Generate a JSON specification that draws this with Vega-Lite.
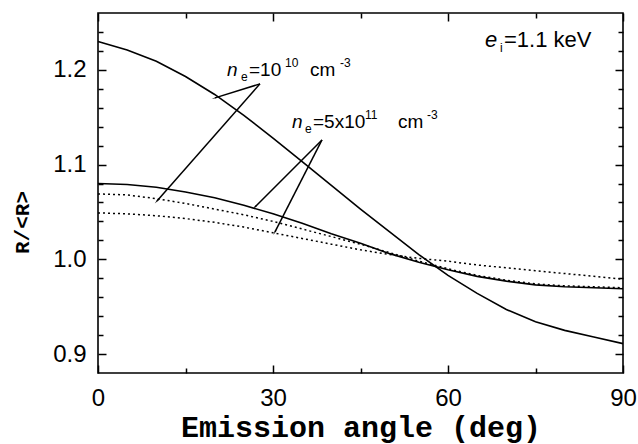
{
  "$schema": "https://vega.github.io/schema/vega-lite/v6.json",
  "width": 525,
  "height": 360,
  "autosize": {"type": "none"},
  "padding": {"left": 98, "top": 13, "right": 15, "bottom": 71},
  "background": "white",
  "config": {"view": {"stroke": "black", "strokeWidth": 1.6}},
  "datasets": {
    "curves": [
      {"series": "s1", "kind": "solid", "x": 0, "y": 1.230},
      {"series": "s1", "kind": "solid", "x": 5, "y": 1.221},
      {"series": "s1", "kind": "solid", "x": 10, "y": 1.209},
      {"series": "s1", "kind": "solid", "x": 15, "y": 1.193},
      {"series": "s1", "kind": "solid", "x": 20, "y": 1.174},
      {"series": "s1", "kind": "solid", "x": 25, "y": 1.152},
      {"series": "s1", "kind": "solid", "x": 30, "y": 1.128},
      {"series": "s1", "kind": "solid", "x": 35, "y": 1.103},
      {"series": "s1", "kind": "solid", "x": 40, "y": 1.078},
      {"series": "s1", "kind": "solid", "x": 45, "y": 1.053},
      {"series": "s1", "kind": "solid", "x": 50, "y": 1.029},
      {"series": "s1", "kind": "solid", "x": 55, "y": 1.005},
      {"series": "s1", "kind": "solid", "x": 60, "y": 0.983},
      {"series": "s1", "kind": "solid", "x": 65, "y": 0.964},
      {"series": "s1", "kind": "solid", "x": 70, "y": 0.947},
      {"series": "s1", "kind": "solid", "x": 75, "y": 0.934},
      {"series": "s1", "kind": "solid", "x": 80, "y": 0.925},
      {"series": "s1", "kind": "solid", "x": 85, "y": 0.918},
      {"series": "s1", "kind": "solid", "x": 90, "y": 0.911},
      {"series": "s2", "kind": "solid", "x": 0, "y": 1.080},
      {"series": "s2", "kind": "solid", "x": 5, "y": 1.079},
      {"series": "s2", "kind": "solid", "x": 10, "y": 1.076},
      {"series": "s2", "kind": "solid", "x": 15, "y": 1.071},
      {"series": "s2", "kind": "solid", "x": 20, "y": 1.065},
      {"series": "s2", "kind": "solid", "x": 25, "y": 1.057},
      {"series": "s2", "kind": "solid", "x": 30, "y": 1.048},
      {"series": "s2", "kind": "solid", "x": 35, "y": 1.038},
      {"series": "s2", "kind": "solid", "x": 40, "y": 1.027},
      {"series": "s2", "kind": "solid", "x": 45, "y": 1.017},
      {"series": "s2", "kind": "solid", "x": 50, "y": 1.006},
      {"series": "s2", "kind": "solid", "x": 55, "y": 0.997},
      {"series": "s2", "kind": "solid", "x": 60, "y": 0.989},
      {"series": "s2", "kind": "solid", "x": 65, "y": 0.982},
      {"series": "s2", "kind": "solid", "x": 70, "y": 0.977},
      {"series": "s2", "kind": "solid", "x": 75, "y": 0.973},
      {"series": "s2", "kind": "solid", "x": 80, "y": 0.971},
      {"series": "s2", "kind": "solid", "x": 85, "y": 0.970},
      {"series": "s2", "kind": "solid", "x": 90, "y": 0.969},
      {"series": "d1", "kind": "dotted", "x": 0, "y": 1.069},
      {"series": "d1", "kind": "dotted", "x": 5, "y": 1.068},
      {"series": "d1", "kind": "dotted", "x": 10, "y": 1.064},
      {"series": "d1", "kind": "dotted", "x": 15, "y": 1.059},
      {"series": "d1", "kind": "dotted", "x": 20, "y": 1.053},
      {"series": "d1", "kind": "dotted", "x": 25, "y": 1.047},
      {"series": "d1", "kind": "dotted", "x": 30, "y": 1.040},
      {"series": "d1", "kind": "dotted", "x": 35, "y": 1.032},
      {"series": "d1", "kind": "dotted", "x": 40, "y": 1.024},
      {"series": "d1", "kind": "dotted", "x": 45, "y": 1.016},
      {"series": "d1", "kind": "dotted", "x": 50, "y": 1.007},
      {"series": "d1", "kind": "dotted", "x": 55, "y": 0.998},
      {"series": "d1", "kind": "dotted", "x": 60, "y": 0.990},
      {"series": "d1", "kind": "dotted", "x": 65, "y": 0.983},
      {"series": "d1", "kind": "dotted", "x": 70, "y": 0.978},
      {"series": "d1", "kind": "dotted", "x": 75, "y": 0.974},
      {"series": "d1", "kind": "dotted", "x": 80, "y": 0.972},
      {"series": "d1", "kind": "dotted", "x": 85, "y": 0.971},
      {"series": "d1", "kind": "dotted", "x": 90, "y": 0.970},
      {"series": "d2", "kind": "dotted", "x": 0, "y": 1.049},
      {"series": "d2", "kind": "dotted", "x": 5, "y": 1.048},
      {"series": "d2", "kind": "dotted", "x": 10, "y": 1.046},
      {"series": "d2", "kind": "dotted", "x": 15, "y": 1.043},
      {"series": "d2", "kind": "dotted", "x": 20, "y": 1.039},
      {"series": "d2", "kind": "dotted", "x": 25, "y": 1.034},
      {"series": "d2", "kind": "dotted", "x": 30, "y": 1.028},
      {"series": "d2", "kind": "dotted", "x": 35, "y": 1.022},
      {"series": "d2", "kind": "dotted", "x": 40, "y": 1.016},
      {"series": "d2", "kind": "dotted", "x": 45, "y": 1.010},
      {"series": "d2", "kind": "dotted", "x": 50, "y": 1.005},
      {"series": "d2", "kind": "dotted", "x": 55, "y": 1.001},
      {"series": "d2", "kind": "dotted", "x": 60, "y": 0.998},
      {"series": "d2", "kind": "dotted", "x": 65, "y": 0.994},
      {"series": "d2", "kind": "dotted", "x": 70, "y": 0.991},
      {"series": "d2", "kind": "dotted", "x": 75, "y": 0.988},
      {"series": "d2", "kind": "dotted", "x": 80, "y": 0.985},
      {"series": "d2", "kind": "dotted", "x": 85, "y": 0.982},
      {"series": "d2", "kind": "dotted", "x": 90, "y": 0.979}
    ],
    "arrows": [
      {"id": "a1", "x": 27.77, "y": 1.1852, "x2": 20.06, "y2": 1.1704},
      {"id": "a2", "x": 27.77, "y": 1.1852, "x2": 10.11, "y2": 1.0616},
      {"id": "a3", "x": 38.4, "y": 1.126, "x2": 26.91, "y2": 1.0553},
      {"id": "a4", "x": 38.4, "y": 1.126, "x2": 30.34, "y2": 1.0289}
    ],
    "labels": [
      {"style": "it", "t": "n", "x": 22.11, "y": 1.1936},
      {"style": "sub", "t": "e", "x": 24.51, "y": 1.1936},
      {"style": "big", "t": "=10", "x": 25.89, "y": 1.1936},
      {"style": "sup", "t": "10", "x": 32.06, "y": 1.1936},
      {"style": "big", "t": "cm", "x": 36.34, "y": 1.1936},
      {"style": "sup", "t": "-3", "x": 41.49, "y": 1.1936},
      {"style": "it", "t": "n", "x": 33.26, "y": 1.1387},
      {"style": "sub", "t": "e", "x": 35.49, "y": 1.1387},
      {"style": "big", "t": "=5x10", "x": 36.86, "y": 1.1387},
      {"style": "sup", "t": "11", "x": 45.77, "y": 1.1387},
      {"style": "big", "t": "cm", "x": 51.43, "y": 1.1387},
      {"style": "sup", "t": "-3", "x": 56.4, "y": 1.1387},
      {"style": "itk", "t": "e", "x": 66.34, "y": 1.2242},
      {"style": "sub", "t": "i", "x": 68.91, "y": 1.2242},
      {"style": "bigk", "t": "=1.1 keV", "x": 69.6, "y": 1.2242}
    ]
  },
  "resolve": {"axis": {"x": "independent", "y": "independent"}},
  "layer": [
    {
      "data": {"name": "curves"},
      "transform": [{"filter": "datum.kind == 'solid'"}],
      "mark": {"type": "line", "color": "black", "strokeWidth": 1.6},
      "encoding": {
        "x": {"field": "x", "type": "quantitative", "scale": {"domain": [0, 90], "nice": false, "zero": false},
          "axis": {"orient": "bottom", "values": [0, 30, 60, 90], "offset": -8, "tickSize": 8, "tickWidth": 1.5, "tickColor": "black", "domain": false, "grid": false,
            "labelFont": "Liberation Sans", "labelFontSize": 24, "labelColor": "black", "labelPadding": 13, "labelFlush": false, "labelOverlap": false,
            "title": "Emission angle (deg)", "titleFont": "Liberation Mono", "titleFontSize": 30, "titleFontWeight": "bold", "titleColor": "black", "titleY": 71, "titleBaseline": "alphabetic"}},
        "y": {"field": "y", "type": "quantitative", "scale": {"domain": [0.88, 1.26], "nice": false, "zero": false},
          "axis": {"orient": "left", "values": [0.9, 1.0, 1.1, 1.2], "format": ".1f", "offset": -8, "tickSize": 8, "tickWidth": 1.5, "tickColor": "black", "domain": false, "grid": false,
            "labelFont": "Liberation Sans", "labelFontSize": 24, "labelColor": "black", "labelPadding": 12, "labelOverlap": false,
            "title": "R/<R>", "titleFont": "Liberation Mono", "titleFontSize": 21, "titleFontWeight": "bold", "titleColor": "black", "titleX": -84, "titleY": 209, "titleAngle": -90, "titleBaseline": "middle", "titleAlign": "center"}},
        "detail": {"field": "series", "type": "nominal"}
      }
    },
    {
      "data": {"name": "curves"},
      "transform": [{"filter": "datum.kind == 'dotted'"}],
      "mark": {"type": "line", "color": "black", "strokeWidth": 1.5, "strokeDash": [2, 3]},
      "encoding": {
        "x": {"field": "x", "type": "quantitative", "scale": {"domain": [0, 90], "nice": false, "zero": false},
          "axis": {"orient": "bottom", "values": [15, 45, 75], "offset": -5, "tickSize": 5, "tickWidth": 1.5, "tickColor": "black", "domain": false, "grid": false, "labels": false, "title": null}},
        "y": {"field": "y", "type": "quantitative", "scale": {"domain": [0.88, 1.26], "nice": false, "zero": false},
          "axis": {"orient": "left", "values": [0.92, 0.94, 0.96, 0.98, 1.02, 1.04, 1.06, 1.08, 1.12, 1.14, 1.16, 1.18, 1.22, 1.24], "offset": -5, "tickSize": 5, "tickWidth": 1.5, "tickColor": "black", "domain": false, "grid": false, "labels": false, "title": null}},
        "detail": {"field": "series", "type": "nominal"}
      }
    },
    {
      "data": {"name": "arrows"},
      "mark": {"type": "rule", "color": "black", "strokeWidth": 1.5},
      "encoding": {
        "x": {"field": "x", "type": "quantitative", "scale": {"domain": [0, 90], "nice": false, "zero": false},
          "axis": {"orient": "top", "values": [0, 30, 60, 90], "offset": -8, "tickSize": 8, "tickWidth": 1.5, "tickColor": "black", "domain": false, "grid": false, "labels": false, "title": null}},
        "y": {"field": "y", "type": "quantitative", "scale": {"domain": [0.88, 1.26], "nice": false, "zero": false},
          "axis": {"orient": "right", "values": [0.9, 1.0, 1.1, 1.2], "offset": -8, "tickSize": 8, "tickWidth": 1.5, "tickColor": "black", "domain": false, "grid": false, "labels": false, "title": null}},
        "x2": {"field": "x2"},
        "y2": {"field": "y2"}
      }
    },
    {
      "data": {"name": "labels"},
      "transform": [{"filter": "datum.style == 'big'"}],
      "mark": {"type": "text", "align": "left", "baseline": "alphabetic", "font": "Liberation Sans", "fontSize": 19, "color": "black"},
      "encoding": {
        "x": {"field": "x", "type": "quantitative", "scale": {"domain": [0, 90], "nice": false, "zero": false},
          "axis": {"orient": "top", "values": [15, 45, 75], "offset": -5, "tickSize": 5, "tickWidth": 1.5, "tickColor": "black", "domain": false, "grid": false, "labels": false, "title": null}},
        "y": {"field": "y", "type": "quantitative", "scale": {"domain": [0.88, 1.26], "nice": false, "zero": false},
          "axis": {"orient": "right", "values": [0.92, 0.94, 0.96, 0.98, 1.02, 1.04, 1.06, 1.08, 1.12, 1.14, 1.16, 1.18, 1.22, 1.24], "offset": -5, "tickSize": 5, "tickWidth": 1.5, "tickColor": "black", "domain": false, "grid": false, "labels": false, "title": null}},
        "text": {"field": "t"}
      }
    },
    {
      "data": {"name": "labels"},
      "transform": [{"filter": "datum.style == 'bigk'"}],
      "mark": {"type": "text", "align": "left", "baseline": "alphabetic", "font": "Liberation Sans", "fontSize": 22, "color": "black"},
      "encoding": {
        "x": {"field": "x", "type": "quantitative", "axis": null},
        "y": {"field": "y", "type": "quantitative", "axis": null},
        "text": {"field": "t"}
      }
    },
    {
      "data": {"name": "labels"},
      "transform": [{"filter": "datum.style == 'itk'"}],
      "mark": {"type": "text", "align": "left", "baseline": "alphabetic", "font": "Liberation Sans", "fontSize": 22, "fontStyle": "italic", "color": "black"},
      "encoding": {
        "x": {"field": "x", "type": "quantitative", "axis": null},
        "y": {"field": "y", "type": "quantitative", "axis": null},
        "text": {"field": "t"}
      }
    },
    {
      "data": {"name": "labels"},
      "transform": [{"filter": "datum.style == 'it'"}],
      "mark": {"type": "text", "align": "left", "baseline": "alphabetic", "font": "Liberation Sans", "fontSize": 19, "fontStyle": "italic", "color": "black"},
      "encoding": {
        "x": {"field": "x", "type": "quantitative", "axis": null},
        "y": {"field": "y", "type": "quantitative", "axis": null},
        "text": {"field": "t"}
      }
    },
    {
      "data": {"name": "labels"},
      "transform": [{"filter": "datum.style == 'sub'"}],
      "mark": {"type": "text", "align": "left", "baseline": "alphabetic", "font": "Liberation Sans", "fontSize": 12, "dy": 5, "color": "black"},
      "encoding": {
        "x": {"field": "x", "type": "quantitative", "axis": null},
        "y": {"field": "y", "type": "quantitative", "axis": null},
        "text": {"field": "t"}
      }
    },
    {
      "data": {"name": "labels"},
      "transform": [{"filter": "datum.style == 'sup'"}],
      "mark": {"type": "text", "align": "left", "baseline": "alphabetic", "font": "Liberation Sans", "fontSize": 12, "dy": -9, "color": "black"},
      "encoding": {
        "x": {"field": "x", "type": "quantitative", "axis": null},
        "y": {"field": "y", "type": "quantitative", "axis": null},
        "text": {"field": "t"}
      }
    },
    {
      "data": {"name": "arrows"},
      "transform": [{"filter": "datum.id == 'a1'"}],
      "mark": {"type": "point", "shape": "wedge", "size": 35, "filled": true, "color": "black", "opacity": 1, "angle": 253},
      "encoding": {
        "x": {"field": "x2", "type": "quantitative", "axis": null},
        "y": {"field": "y2", "type": "quantitative", "axis": null}
      }
    },
    {
      "data": {"name": "arrows"},
      "transform": [{"filter": "datum.id == 'a2'"}],
      "mark": {"type": "point", "shape": "wedge", "size": 35, "filled": true, "color": "black", "opacity": 1, "angle": 221},
      "encoding": {
        "x": {"field": "x2", "type": "quantitative", "axis": null},
        "y": {"field": "y2", "type": "quantitative", "axis": null}
      }
    },
    {
      "data": {"name": "arrows"},
      "transform": [{"filter": "datum.id == 'a3'"}],
      "mark": {"type": "point", "shape": "wedge", "size": 35, "filled": true, "color": "black", "opacity": 1, "angle": 225},
      "encoding": {
        "x": {"field": "x2", "type": "quantitative", "axis": null},
        "y": {"field": "y2", "type": "quantitative", "axis": null}
      }
    },
    {
      "data": {"name": "arrows"},
      "transform": [{"filter": "datum.id == 'a4'"}],
      "mark": {"type": "point", "shape": "wedge", "size": 35, "filled": true, "color": "black", "opacity": 1, "angle": 207},
      "encoding": {
        "x": {"field": "x2", "type": "quantitative", "axis": null},
        "y": {"field": "y2", "type": "quantitative", "axis": null}
      }
    }
  ]
}
